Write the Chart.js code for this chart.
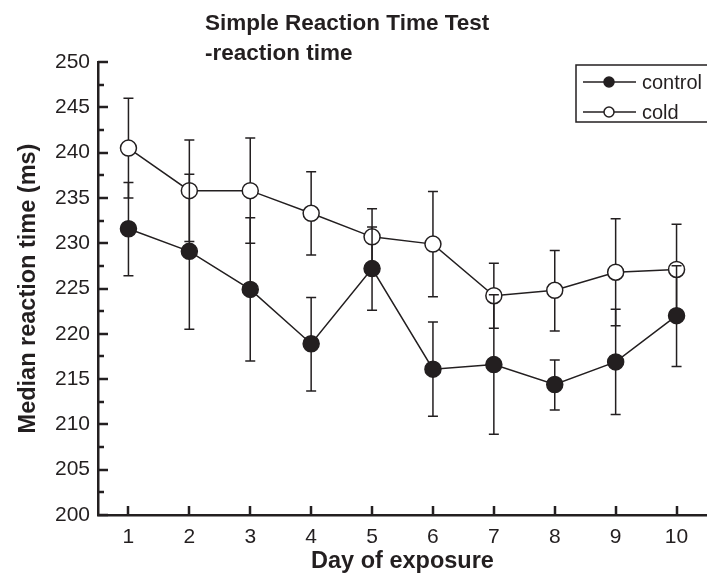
<!DOCTYPE html>
<html>
<head>
<meta charset="utf-8">
<script src="https://cdn.jsdelivr.net/npm/chart.js@4"></script>
<style>
  html, body { margin: 0; padding: 0; background: #fff; }
  #wrap { width: 707px; height: 576px; }
</style>
</head>
<body>
<div id="wrap"><canvas id="chart" width="707" height="576"></canvas></div>
<script>
const days = ['1', '2', '3', '4', '5', '6', '7', '8', '9', '10'];

const controlMean  = [231.6, 229.1, 224.9, 218.9, 227.2, 216.1, 216.6, 214.4, 216.9, 222.0];
const controlUpper = [236.7, 237.6, 232.8, 224.0, 231.8, 221.3, 224.3, 217.1, 222.7, 227.5];
const controlLower = [226.4, 220.5, 217.0, 213.7, 222.6, 210.9, 208.9, 211.6, 211.1, 216.4];

const coldMean  = [240.5, 235.8, 235.8, 233.3, 230.7, 229.9, 224.2, 224.8, 226.8, 227.1];
const coldUpper = [246.0, 241.4, 241.6, 237.9, 233.8, 235.7, 227.8, 229.2, 232.7, 232.1];
const coldLower = [235.0, 230.2, 230.0, 228.7, 227.6, 224.1, 220.6, 220.3, 220.9, 222.1];

const titleLines = ['Simple Reaction Time Test', '-reaction time'];
const INK = '#231f20';
const FONT = 'Arial, "Liberation Sans", sans-serif';

// error bars are drawn just before their own dataset, so markers sit on top
const errorBars = {
  id: 'errorBars',
  beforeDatasetDraw(chart, args) {
    const ds = chart.data.datasets[args.index];
    if (!ds.upper) return;
    const { ctx, scales: { x, y } } = chart;
    ctx.save();
    ctx.strokeStyle = INK;
    ctx.lineWidth = 1.5;
    ds.data.forEach((v, i) => {
      const px = x.getPixelForValue(i);
      const top = y.getPixelForValue(ds.upper[i]);
      const bot = y.getPixelForValue(ds.lower[i]);
      ctx.beginPath();
      ctx.moveTo(px, top); ctx.lineTo(px, bot);
      ctx.moveTo(px - 5, top); ctx.lineTo(px + 5, top);
      ctx.moveTo(px - 5, bot); ctx.lineTo(px + 5, bot);
      ctx.stroke();
    });
    ctx.restore();
  }
};

// inward tick marks on both axes, minor ticks on y
const innerTicks = {
  id: 'innerTicks',
  beforeDatasetsDraw(chart) {
    const { ctx, scales: { x, y }, chartArea } = chart;
    ctx.save();
    ctx.strokeStyle = INK;
    ctx.lineWidth = 2.5;
    ctx.beginPath();
    for (let v = y.min; v <= y.max + 0.01; v += 2.5) {
      const py = Math.round(y.getPixelForValue(v));
      const len = (v % 5 === 0) ? 10 : 6;
      ctx.moveTo(chartArea.left, py); ctx.lineTo(chartArea.left + len, py);
    }
    days.forEach((d, i) => {
      const px = Math.round(x.getPixelForValue(i));
      ctx.moveTo(px, chartArea.bottom); ctx.lineTo(px, chartArea.bottom - 9);
    });
    ctx.stroke();
    ctx.restore();
  }
};

const titleAndLegend = {
  id: 'titleAndLegend',
  afterDraw(chart) {
    const ctx = chart.ctx;
    ctx.save();
    ctx.fillStyle = INK;
    ctx.font = 'bold 22.5px ' + FONT;
    ctx.textBaseline = 'alphabetic';
    ctx.fillText(titleLines[0], 205, 30);
    ctx.fillText(titleLines[1], 205, 60);

    // legend box
    ctx.strokeStyle = INK;
    ctx.lineWidth = 1.5;
    ctx.strokeRect(576, 65, 140, 57);
    ctx.font = '20px ' + FONT;
    ctx.textBaseline = 'middle';
    chart.data.datasets.forEach((ds, i) => {
      const yy = 82 + i * 30;
      ctx.beginPath();
      ctx.moveTo(583, yy); ctx.lineTo(636, yy);
      ctx.stroke();
      ctx.beginPath();
      ctx.arc(609, yy, 5, 0, Math.PI * 2);
      ctx.fillStyle = ds.pointBackgroundColor;
      ctx.fill();
      ctx.stroke();
      ctx.fillStyle = INK;
      ctx.fillText(ds.label, 642, yy + 1);
    });
    ctx.restore();
  }
};

new Chart(document.getElementById('chart'), {
  type: 'line',
  data: {
    labels: days,
    datasets: [
      {
        label: 'control',
        data: controlMean,
        upper: controlUpper,
        lower: controlLower,
        borderColor: INK,
        borderWidth: 1.5,
        pointBackgroundColor: INK,
        pointBorderColor: INK,
        pointBorderWidth: 1.5,
        pointRadius: 8,
        tension: 0
      },
      {
        label: 'cold',
        data: coldMean,
        upper: coldUpper,
        lower: coldLower,
        borderColor: INK,
        borderWidth: 1.5,
        pointBackgroundColor: '#ffffff',
        pointBorderColor: INK,
        pointBorderWidth: 1.5,
        pointRadius: 8,
        tension: 0
      }
    ]
  },
  options: {
    responsive: false,
    animation: false,
    devicePixelRatio: 1,
    layout: { autoPadding: false, padding: { top: 62, right: 0, left: 0, bottom: 0 } },
    plugins: {
      legend: { display: false },
      title: { display: false },
      tooltip: { enabled: false }
    },
    scales: {
      x: {
        type: 'category',
        offset: true,
        grid: { display: false, drawTicks: false },
        border: { display: true, color: INK, width: 2.5 },
        ticks: { color: INK, font: { family: FONT, size: 21 }, padding: 10, maxRotation: 0 },
        title: {
          display: true,
          text: 'Day of exposure',
          color: INK,
          font: { family: FONT, size: 23.5, weight: 'bold' },
          padding: { top: 0, bottom: 0 }
        },
        afterFit(s) { s.height = 61; s.paddingLeft = 0; s.paddingRight = 0; }
      },
      y: {
        min: 200,
        max: 250,
        grid: { display: false, drawTicks: false },
        border: { display: true, color: INK, width: 2.5 },
        ticks: { stepSize: 5, color: INK, font: { family: FONT, size: 21 }, padding: 8 },
        title: {
          display: true,
          text: 'Median reaction time (ms)',
          color: INK,
          font: { family: FONT, size: 23.5, weight: 'bold' },
          padding: { top: 14, bottom: 0 }
        },
        afterFit(s) { s.width = 98; }
      }
    }
  },
  plugins: [errorBars, innerTicks, titleAndLegend]
});
</script>
</body>
</html>
